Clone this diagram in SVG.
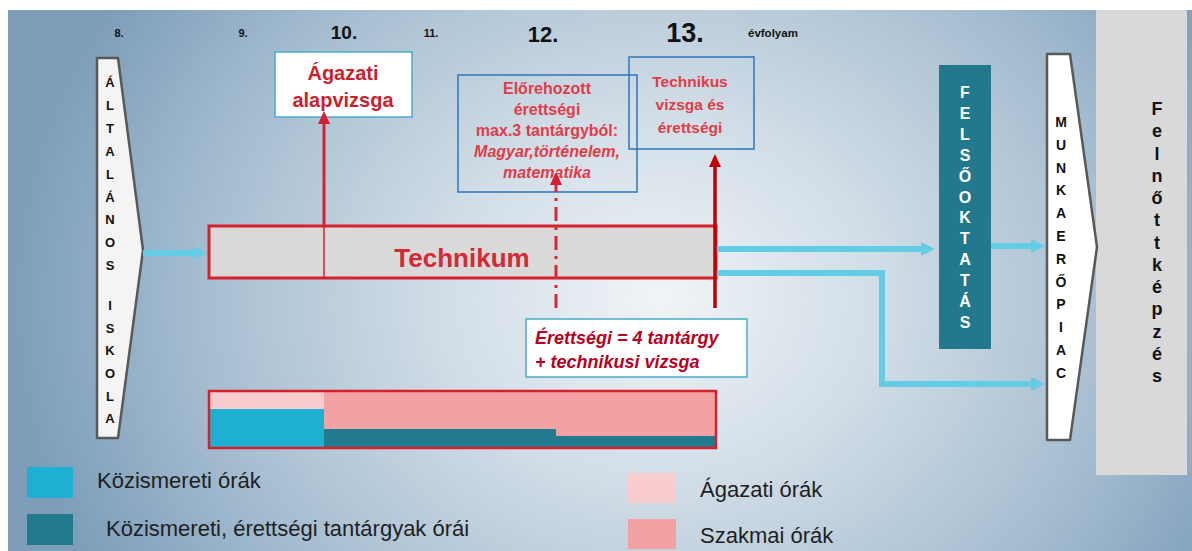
<svg xmlns="http://www.w3.org/2000/svg" width="1192" height="551" viewBox="0 0 1192 551">
<defs>
<radialGradient id="bg" gradientUnits="userSpaceOnUse" cx="660" cy="300" r="650" gradientTransform="translate(660 300) scale(1 0.85) translate(-660 -300)">
<stop offset="0" stop-color="#f0f4f7"/>
<stop offset="0.35" stop-color="#d0dce6"/>
<stop offset="0.7" stop-color="#a6bed1"/>
<stop offset="1" stop-color="#7d9db9"/>
</radialGradient>
<marker id="cyan-head" markerUnits="userSpaceOnUse" markerWidth="16" markerHeight="16" refX="1" refY="7" orient="auto"><path d="M0,0 L14,7 L0,14 Z" fill="#62cde4"/></marker>
<marker id="red-head" markerUnits="userSpaceOnUse" markerWidth="14" markerHeight="14" refX="1" refY="6" orient="auto"><path d="M0,0 L13,6 L0,12 Z" fill="#d42030"/></marker>
<marker id="dred-head" markerUnits="userSpaceOnUse" markerWidth="14" markerHeight="14" refX="1" refY="6" orient="auto"><path d="M0,0 L13,6 L0,12 Z" fill="#c00000"/></marker>
<style>
.sans{font-family:"Liberation Sans",Arial,sans-serif}
.b{font-weight:bold}
.yr{font-family:"Liberation Sans",Arial,sans-serif;font-weight:bold;fill:#111;text-anchor:middle}
.cy{fill:none;stroke:#62cde4;stroke-width:6;marker-end:url(#cyan-head)}
.redtxt{font-family:"Liberation Sans",Arial,sans-serif;font-weight:bold;text-anchor:middle}
.vert{font-family:"Liberation Sans",Arial,sans-serif;font-weight:bold;text-anchor:middle}
.leg{font-family:"Liberation Sans",Arial,sans-serif;font-size:22px;fill:#1f1f1f}
</style>
</defs>
<rect x="0" y="0" width="1192" height="551" fill="#ffffff"/>
<rect x="8" y="10" width="1184" height="541" fill="url(#bg)"/>

<g id="years">
<text class="yr" x="119" y="37" font-size="11">8.</text>
<text class="yr" x="243" y="37" font-size="11">9.</text>
<text class="yr" x="344" y="39" font-size="19">10.</text>
<text class="yr" x="431" y="37" font-size="11">11.</text>
<text class="yr" x="543" y="42" font-size="22">12.</text>
<text class="yr" x="685" y="42" font-size="27">13.</text>
<text class="sans b" x="748" y="37" font-size="11.5" fill="#111">évfolyam</text>
</g>

<g id="felnottkepzes">
<rect x="1096" y="10" width="91" height="465" fill="#d9d9d9"/>
<text class="vert" x="1157" y="115" font-size="18" fill="#111"><tspan x="1157">F</tspan><tspan x="1157" dy="22.25">e</tspan><tspan x="1157" dy="22.25">l</tspan><tspan x="1157" dy="22.25">n</tspan><tspan x="1157" dy="22.25">ő</tspan><tspan x="1157" dy="22.25">t</tspan><tspan x="1157" dy="22.25">t</tspan><tspan x="1157" dy="22.25">k</tspan><tspan x="1157" dy="22.25">é</tspan><tspan x="1157" dy="22.25">p</tspan><tspan x="1157" dy="22.25">z</tspan><tspan x="1157" dy="22.25">é</tspan><tspan x="1157" dy="22.25">s</tspan></text>
</g>

<g id="altalanos-iskola">
<path d="M97,58 L118,58 L143,250 L118,438 L97,438 Z" fill="#f4f4f4" stroke="#595959" stroke-width="2.5" stroke-linejoin="round"/>
<text class="vert" x="110" y="87" font-size="13" fill="#111"><tspan x="110">Á</tspan><tspan x="110" dy="22.9">L</tspan><tspan x="110" dy="22.9">T</tspan><tspan x="110" dy="22.9">A</tspan><tspan x="110" dy="22.9">L</tspan><tspan x="110" dy="22.9">Á</tspan><tspan x="110" dy="22.9">N</tspan><tspan x="110" dy="22.9">O</tspan><tspan x="110" dy="22.9">S</tspan><tspan x="110" dy="40">I</tspan><tspan x="110" dy="22.6">S</tspan><tspan x="110" dy="22.6">K</tspan><tspan x="110" dy="22.6">O</tspan><tspan x="110" dy="22.6">L</tspan><tspan x="110" dy="22.6">A</tspan></text>
</g>

<g id="technikum">
<rect x="209" y="226" width="507" height="52" fill="#d9d9d9" stroke="#d6202c" stroke-width="3"/>
<line x1="324" y1="226" x2="324" y2="278" stroke="#d6202c" stroke-width="1.5"/>
<text class="redtxt" x="462" y="267" font-size="26" fill="#d42a35">Technikum</text>
</g>

<g id="oraszam-savok">
<rect x="209" y="391" width="115" height="18" fill="#f9cdcf"/>
<rect x="209" y="409" width="115" height="39" fill="#1db0d1"/>
<rect x="324" y="391" width="232" height="38" fill="#f3a2a4"/>
<rect x="324" y="429" width="232" height="19" fill="#227a8e"/>
<rect x="556" y="391" width="160" height="45" fill="#f3a2a4"/>
<rect x="556" y="436" width="160" height="12" fill="#227a8e"/>
<rect x="209" y="391" width="507" height="57" fill="none" stroke="#d6202c" stroke-width="2.5"/>
</g>

<g id="agazati-alapvizsga">
<rect x="275" y="52" width="137" height="65" fill="#ffffff" stroke="#4bacc6" stroke-width="1.5"/>
<text class="redtxt" x="343" y="80" font-size="20" fill="#cc1f2e">Ágazati</text>
<text class="redtxt" x="343" y="107" font-size="20" fill="#cc1f2e">alapvizsga</text>
</g>

<g id="elorehozott-erettsegi">
<rect x="458" y="75" width="179" height="117" fill="none" stroke="#2e75b6" stroke-width="1.5"/>
<text class="redtxt" x="547" y="94" font-size="16" fill="#e03c48">Előrehozott</text>
<text class="redtxt" x="547" y="115" font-size="16" fill="#e03c48">érettségi</text>
<text class="redtxt" x="547" y="136" font-size="16" fill="#e03c48">max.3 tantárgyból:</text>
<text class="redtxt" x="547" y="157" font-size="16" fill="#e03c48" font-style="italic">Magyar,történelem,</text>
<text class="redtxt" x="547" y="178" font-size="16" fill="#e03c48" font-style="italic">matematika</text>
</g>

<g id="technikus-vizsga">
<rect x="629" y="57" width="125" height="92" fill="none" stroke="#2e75b6" stroke-width="1.5"/>
<text class="redtxt" x="690" y="87" font-size="15.5" fill="#e03c48">Technikus</text>
<text class="redtxt" x="690" y="110" font-size="15.5" fill="#e03c48">vizsga és</text>
<text class="redtxt" x="690" y="133" font-size="15.5" fill="#e03c48">érettségi</text>
</g>

<g id="erettsegi-4-tantargy">
<rect x="526" y="319" width="221" height="58" fill="#ffffff" stroke="#4bacc6" stroke-width="1.5"/>
<text class="sans b" x="535" y="344" font-size="18" font-style="italic" fill="#b8001f">Érettségi = 4 tantárgy</text>
<text class="sans b" x="535" y="368" font-size="18" font-style="italic" fill="#b8001f">+ technikusi vizsga</text>
</g>

<g id="felsooktatas">
<rect x="939" y="65" width="52" height="284" fill="#22788c"/>
<text class="vert" x="965" y="98" font-size="16" fill="#ffffff"><tspan x="965">F</tspan><tspan x="965" dy="20.9">E</tspan><tspan x="965" dy="20.9">L</tspan><tspan x="965" dy="20.9">S</tspan><tspan x="965" dy="20.9">Ő</tspan><tspan x="965" dy="20.9">O</tspan><tspan x="965" dy="20.9">K</tspan><tspan x="965" dy="20.9">T</tspan><tspan x="965" dy="20.9">A</tspan><tspan x="965" dy="20.9">T</tspan><tspan x="965" dy="20.9">Á</tspan><tspan x="965" dy="20.9">S</tspan></text>
</g>

<g id="munkaeropiac">
<path d="M1047,54 L1070,54 L1097,247 L1070,440 L1047,440 Z" fill="#ffffff" stroke="#595959" stroke-width="2.5" stroke-linejoin="round"/>
<text class="vert" x="1061" y="127" font-size="14" fill="#111"><tspan x="1061">M</tspan><tspan x="1061" dy="22.8">U</tspan><tspan x="1061" dy="22.8">N</tspan><tspan x="1061" dy="22.8">K</tspan><tspan x="1061" dy="22.8">A</tspan><tspan x="1061" dy="22.8">E</tspan><tspan x="1061" dy="22.8">R</tspan><tspan x="1061" dy="22.8">Ő</tspan><tspan x="1061" dy="22.8">P</tspan><tspan x="1061" dy="22.8">I</tspan><tspan x="1061" dy="22.8">A</tspan><tspan x="1061" dy="22.8">C</tspan></text>
</g>

<g id="connectors">
<path class="cy" d="M143,253 H194"/>
<path class="cy" d="M716,249 H922"/>
<path class="cy" d="M991,246 H1032"/>
<path class="cy" d="M716,273 H882 V384 H1032"/>
<path d="M324,226 V123" fill="none" stroke="#d42030" stroke-width="3" marker-end="url(#red-head)"/>
<path d="M556,308 V184" fill="none" stroke="#d42a35" stroke-width="3" stroke-dasharray="14 6 3 6" marker-end="url(#red-head)"/>
<path d="M715,308 V166" fill="none" stroke="#c00000" stroke-width="3.5" marker-end="url(#dred-head)"/>
</g>

<g id="legend">
<rect x="27" y="467" width="46" height="31" fill="#1db0d1"/>
<text class="leg" x="97" y="488">Közismereti órák</text>
<rect x="27" y="514" width="46" height="31" fill="#227a8e"/>
<text class="leg" x="106" y="536">Közismereti, érettségi tantárgyak órái</text>
<rect x="628" y="473" width="48" height="30" fill="#f9cdcf"/>
<text class="leg" x="700" y="497">Ágazati órák</text>
<rect x="628" y="519" width="48" height="30" fill="#f3a2a4"/>
<text class="leg" x="700" y="543">Szakmai órák</text>
</g>
</svg>
